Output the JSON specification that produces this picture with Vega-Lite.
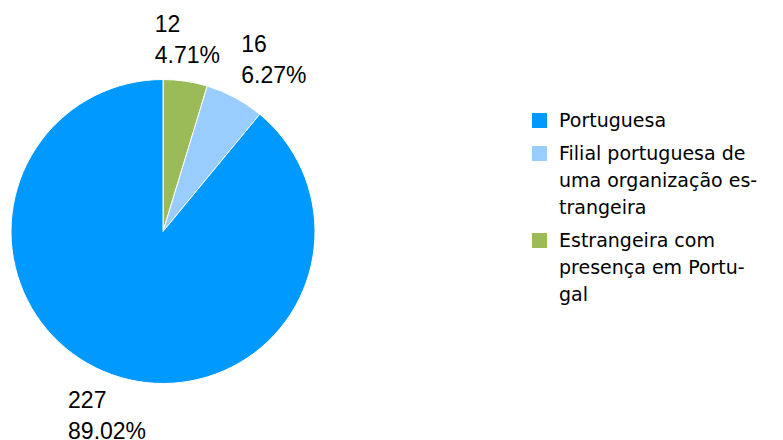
{
  "$schema": "https://vega.github.io/schema/vega-lite/v6.json",
  "width": 326,
  "height": 463,
  "padding": {"left": 0, "top": 0, "right": 457, "bottom": 0},
  "autosize": "none",
  "background": "white",
  "config": {
    "view": {"stroke": null},
    "style": {"guide-label": {"lineHeight": 27}}
  },
  "data": {
    "values": [
      {"cat": "Estrangeira com presença em Portugal", "n": 12, "label": "12\n4.71%", "ord": 1},
      {"cat": "Filial portuguesa de uma organização estrangeira", "n": 16, "label": "16\n6.27%", "ord": 2},
      {"cat": "Portuguesa", "n": 227, "label": "227\n89.02%", "ord": 3}
    ]
  },
  "encoding": {
    "theta": {"field": "n", "type": "quantitative", "stack": true},
    "order": {"field": "ord", "type": "quantitative"},
    "color": {
      "field": "cat",
      "type": "nominal",
      "scale": {
        "domain": ["Portuguesa", "Filial portuguesa de uma organização estrangeira", "Estrangeira com presença em Portugal"],
        "range": ["#0099FF", "#99CCFF", "#9BBB59"]
      },
      "legend": {
        "title": null,
        "orient": "none",
        "legendX": 530,
        "legendY": 111,
        "padding": 0,
        "symbolType": "square",
        "symbolSize": 225,
        "symbolStrokeWidth": 0,
        "labelOffset": 10,
        "labelFont": "DejaVu Sans",
        "labelFontSize": 19,
        "labelColor": "#000000",
        "labelLimit": 400,
        "rowPadding": 13,
        "labelExpr": "datum.label == 'Portuguesa' ? 'Portuguesa' : (indexof(datum.label, 'Filial') == 0 ? ['Filial portuguesa de', 'uma organização es-', 'trangeira'] : ['Estrangeira com', 'presença em Portu-', 'gal'])"
      }
    }
  },
  "layer": [
    {"mark": {"type": "arc", "outerRadius": 152, "stroke": "white", "strokeWidth": 1}},
    {
      "mark": {"type": "text", "radius": 195, "align": "left", "baseline": "middle", "dx": -37, "dy": -14, "fontSize": 23, "font": "Liberation Sans", "lineBreak": "\n", "lineHeight": 31, "fill": "#000000"},
      "encoding": {"color": {"value": "#000000"}, "text": {"condition": {"test": "datum.ord == 1", "field": "label"}, "value": ""}}
    },
    {
      "mark": {"type": "text", "radius": 195, "align": "left", "baseline": "middle", "dx": -14, "dy": -15, "fontSize": 23, "font": "Liberation Sans", "lineBreak": "\n", "lineHeight": 31, "fill": "#000000"},
      "encoding": {"color": {"value": "#000000"}, "text": {"condition": {"test": "datum.ord == 2", "field": "label"}, "value": ""}}
    },
    {
      "mark": {"type": "text", "radius": 195, "align": "left", "baseline": "middle", "dx": -29, "dy": -14, "fontSize": 23, "font": "Liberation Sans", "lineBreak": "\n", "lineHeight": 31, "fill": "#000000"},
      "encoding": {"color": {"value": "#000000"}, "text": {"condition": {"test": "datum.ord == 3", "field": "label"}, "value": ""}}
    }
  ]
}
